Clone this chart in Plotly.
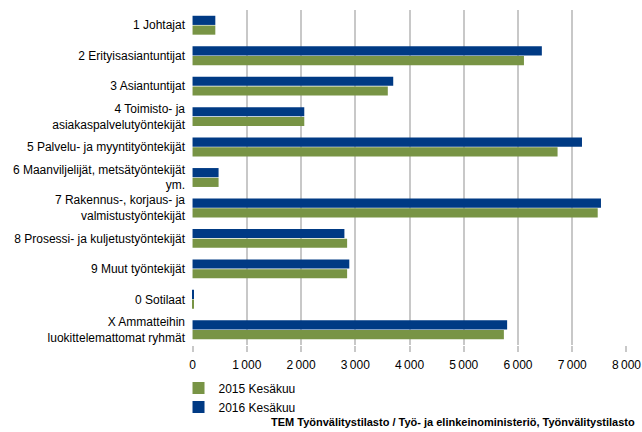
import plotly.graph_objects as go

categories = [
    "1 Johtajat",
    "2 Erityisasiantuntijat",
    "3 Asiantuntijat",
    "4 Toimisto- ja<br>asiakaspalvelutyöntekijät",
    "5 Palvelu- ja myyntityöntekijät",
    "6 Maanviljelijät, metsätyöntekijät<br>ym.",
    "7 Rakennus-, korjaus- ja<br>valmistustyöntekijät",
    "8 Prosessi- ja kuljetustyöntekijät",
    "9 Muut työntekijät",
    "0 Sotilaat",
    "X Ammatteihin<br>luokittelemattomat ryhmät",
]
values_2015 = [420, 6110, 3600, 2060, 6730, 480, 7470, 2850, 2850, 10, 5740]
values_2016 = [420, 6440, 3700, 2060, 7180, 480, 7530, 2800, 2890, 20, 5800]
tick_vals = [0, 1000, 2000, 3000, 4000, 5000, 6000, 7000, 8000]
tick_text = ["0", "1\u2009000", "2\u2009000", "3\u2009000", "4\u2009000",
             "5\u2009000", "6\u2009000", "7\u2009000", "8\u2009000"]

fig = go.Figure()
fig.add_trace(go.Bar(
    y=categories, x=values_2015, orientation="h", name="2015 Kesäkuu",
    marker=dict(color="#789445", line=dict(width=0)),
))
fig.add_trace(go.Bar(
    y=categories, x=values_2016, orientation="h", name="2016 Kesäkuu",
    marker=dict(color="#003A84", line=dict(width=0)),
))

fig.update_layout(
    width=642, height=432,
    margin=dict(l=192, r=15, t=10, b=85),
    paper_bgcolor="white", plot_bgcolor="white",
    barmode="group", bargap=0.36, bargroupgap=0.06,
    font=dict(family="Liberation Sans, Arial, sans-serif", size=12, color="#000000"),
    xaxis=dict(
        range=[-10, 8010], tickvals=tick_vals, ticktext=tick_text,
        showgrid=True, gridcolor="#c8c8c8", gridwidth=2,
        ticks="outside", ticklen=6, tickcolor="#c8c8c8", tickwidth=2,
        zeroline=False, showline=False, tickfont=dict(size=12),
        automargin=False, ticklabeloverflow="allow", ticklabelstandoff=3,
    ),
    yaxis=dict(
        categoryorder="array", categoryarray=list(reversed(categories)),
        showgrid=False, ticks="", showline=False, ticklabelstandoff=6,
        tickfont=dict(size=12), automargin=False,
    ),
    legend=dict(
        x=-0.031, y=-0.085, xanchor="left", yanchor="top",
        orientation="v", font=dict(size=12), tracegroupgap=0,
        itemwidth=30, bgcolor="rgba(0,0,0,0)",
    ),
    annotations=[dict(
        text="<b>TEM Työnvälitystilasto / Työ- ja elinkeinoministeriö, Työnvälitystilasto</b>",
        xref="paper", yref="paper", x=1.023, y=-0.23,
        xanchor="right", yanchor="middle", showarrow=False,
        font=dict(size=11, color="#000000"),
    )],
)

fig.write_html(
    "out.html",
    config={"displayModeBar": False},
    post_script="document.body.style.margin='0';document.body.style.overflow='hidden';",
)
